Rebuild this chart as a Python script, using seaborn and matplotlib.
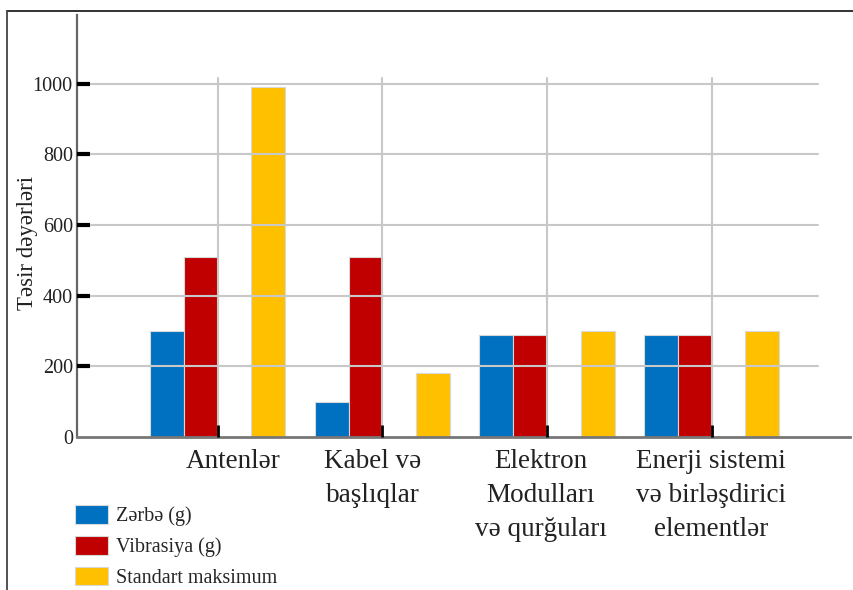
import matplotlib
matplotlib.use("Agg")
import matplotlib.pyplot as plt
import matplotlib.transforms as mtransforms
from matplotlib.lines import Line2D
import seaborn as sns
import pandas as pd

# ---- data ----
categories = ["Antenlər", "Kabel və\nbaşlıqlar", "Elektron\nModulları\nvə qurğuları",
              "Enerji sistemi\nvə birləşdirici\nelementlər"]
series_names = ["Zərbə (g)", "Vibrasiya (g)", "Standart maksimum"]
zerbe = [300, 100, 290, 290]
vibrasiya = [510, 510, 290, 290]
standart = [990, 180, 300, 300]
y_ticks = [0, 200, 400, 600, 800, 1000]
y_label = "Təsir dəyərləri"

colors = ["#0070C0", "#C00000", "#FFFFFF", "#FFC000"]
gap_level = " "
hue_order = [series_names[0], series_names[1], gap_level, series_names[2]]

rows = []
for name, vals in zip(series_names, [zerbe, vibrasiya, standart]):
    for c, v in zip(categories, vals):
        rows.append({"cat": c, "series": name, "value": v})
df = pd.DataFrame(rows)

sns.set_theme(style="white")
plt.rcParams["font.family"] = ["Liberation Serif", "DejaVu Serif"]

W, H = 854, 590
fig = plt.figure(figsize=(W / 100, H / 100), dpi=100)
ax = fig.add_axes([77 / W, 1 - 437 / H, 773 / W, 422 / H])

sns.barplot(data=df, x="cat", y="value", hue="series", order=categories,
            hue_order=hue_order, palette=colors, saturation=1, width=0.82, gap=0,
            edgecolor="#d8d8d8", linewidth=0.8, legend=False, ax=ax, zorder=2)

ax.set_xlim(-0.854, 3.84)
ax.set_ylim(0, 1195)
ax.set_axisbelow(False)

# grid (drawn above bars, as in the reference)
for yv in y_ticks[1:]:
    ax.axhline(yv, xmin=0, xmax=0.959, color="#c8c8c8", lw=1.5, zorder=2.3)
for xv in range(len(categories)):
    ax.axvline(xv, ymin=0, ymax=0.851, color="#c8c8c8", lw=1.5, zorder=2.3)

ax.set_yticks(y_ticks)
ax.set_yticklabels([str(v) for v in y_ticks])
ax.tick_params(axis="y", direction="in", length=9.5, width=3.0, color="#000000",
               labelsize=14.5, pad=3, left=True, labelcolor="#222222")
ax.yaxis.get_major_ticks()[0].tick1line.set_visible(False)
ax.tick_params(axis="x", direction="in", length=8.5, width=2.0, color="#000000",
               labelsize=19.5, pad=9, bottom=True, labelcolor="#222222")
ax.set_xlabel("")
ax.set_ylabel(y_label, fontsize=16.5, color="#222222")
ax.yaxis.set_label_coords(-0.050, 0.46)

offsets_px = [15, -10, -6, -1]
for lab, dx in zip(ax.get_xticklabels(), offsets_px):
    lab.set_linespacing(1.45)
    lab.set_transform(lab.get_transform() +
                      mtransforms.ScaledTranslation(dx / 100, 0, fig.dpi_scale_trans))

for s in ["top", "right"]:
    ax.spines[s].set_visible(False)
ax.spines["left"].set_color("#666666")
ax.spines["left"].set_linewidth(1.6)
ax.spines["bottom"].set_color("#777777")
ax.spines["bottom"].set_linewidth(2.0)

# legend (omit the spacer level)
handles = [ax.containers[i] for i in (0, 1, 3)]
fig.legend(handles, series_names, loc="upper left",
           bbox_to_anchor=(75 / W, 1 - 505 / H), frameon=False, fontsize=14.5,
           handlelength=1.64, handleheight=1.05, handletextpad=0.4,
           labelspacing=0.48, borderpad=0, borderaxespad=0)

# outer frame lines (top and left)
fig.add_artist(Line2D([7 / W, 1], [1 - 11 / H, 1 - 11 / H], transform=fig.transFigure,
                      color="#222222", lw=1.3))
fig.add_artist(Line2D([7 / W, 7 / W], [0, 1 - 11 / H], transform=fig.transFigure,
                      color="#444444", lw=1.3))

fig.savefig("out.png", dpi=100)
